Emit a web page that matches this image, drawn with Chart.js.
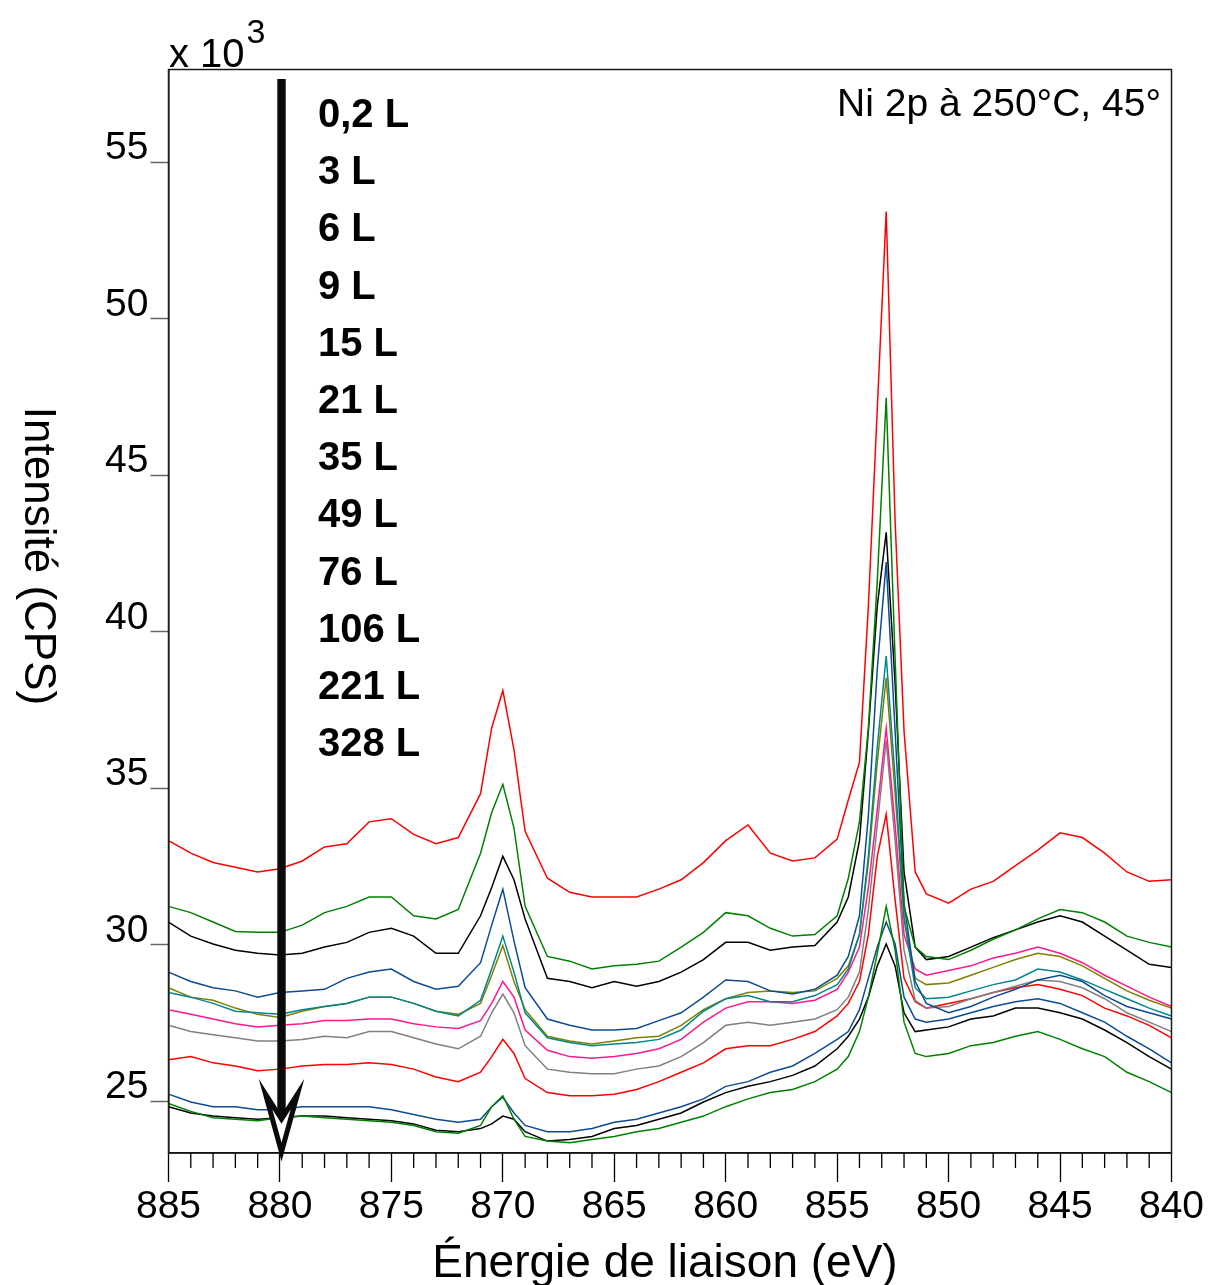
<!DOCTYPE html>
<html lang="fr">
<head>
<meta charset="utf-8">
<script src="https://cdn.jsdelivr.net/npm/chart.js@4.4.1/dist/chart.umd.min.js"></script>
<style>
  html, body { margin: 0; padding: 0; background: #fff; }
  #wrap { width: 1210px; height: 1285px; position: relative; }
</style>
</head>
<body>
<div id="wrap"><canvas id="xps"></canvas></div>
<script>
// binding energy grid (eV), denser around the two Ni 2p peaks
const energies = [885, 884, 883, 882, 881, 880, 879, 878, 877, 876, 875, 874, 873, 872, 871,
  870.5, 870, 869.5,
  869, 868, 867, 866, 865, 864, 863, 862, 861, 860, 859, 858, 857, 856, 855,
  854.5, 854, 853.6, 853.2, 852.8, 852.4, 852, 851.5, 851,
  850, 849, 848, 847, 846, 845, 844, 843, 842, 841, 840];

const exposures = ['0,2 L', '3 L', '6 L', '9 L', '15 L', '21 L', '35 L', '49 L', '76 L', '106 L', '221 L', '328 L'];
const seriesColors = ['#ff0000', '#008000', '#000000', '#0d4c92', '#00868b', '#808000', '#ff1a8c', '#808080', '#ff0000', '#008000', '#0d4c92', '#000000'];

// intensities, x 10^3 CPS
const cps_02L = [33.33, 32.93, 32.63, 32.48, 32.33, 32.43, 32.68, 33.13, 33.23, 33.93, 34.03, 33.53, 33.23, 33.43, 34.83,
  36.93, 38.13, 36.23,
  33.63, 32.13, 31.68, 31.53, 31.53, 31.53, 31.78, 32.08, 32.63, 33.33, 33.83, 32.93, 32.68, 32.78, 33.38,
  34.63, 35.83, 40.83, 47.13, 53.43, 43.53, 36.83, 32.33, 31.63,
  31.33, 31.78, 32.03, 32.53, 33.03, 33.58, 33.43, 32.93, 32.33, 32.03, 32.08];
const cps_3L = [31.23, 31.03, 30.73, 30.43, 30.4, 30.4, 30.63, 31.03, 31.23, 31.53, 31.53, 30.93, 30.83, 31.13, 32.93,
  34.23, 35.13, 33.73,
  31.23, 29.63, 29.48, 29.23, 29.33, 29.38, 29.48, 29.93, 30.4, 31.03, 30.93, 30.53, 30.28, 30.33, 30.93,
  32.13, 33.93, 36.93, 41.63, 47.48, 39.13, 31.23, 29.93, 29.63,
  29.53, 29.83, 30.18, 30.48, 30.83, 31.13, 31.03, 30.73, 30.28, 30.08, 29.93];
const cps_6L = [30.73, 30.28, 30.03, 29.83, 29.73, 29.68, 29.73, 29.93, 30.08, 30.4, 30.53, 30.28, 29.73, 29.73, 30.93,
  31.83, 32.83, 32.08,
  30.83, 28.93, 28.83, 28.63, 28.83, 28.68, 28.83, 29.13, 29.53, 30.08, 30.08, 29.83, 29.93, 29.98, 30.73,
  31.53, 33.33, 36.83, 40.83, 43.18, 38.33, 32.33, 29.93, 29.53,
  29.63, 29.93, 30.23, 30.48, 30.73, 30.93, 30.73, 30.28, 29.83, 29.38, 29.28];
const cps_9L = [29.13, 28.83, 28.63, 28.53, 28.33, 28.48, 28.53, 28.58, 28.93, 29.13, 29.23, 28.83, 28.58, 28.68, 29.43,
  30.63, 31.78, 30.13,
  28.63, 27.63, 27.43, 27.28, 27.28, 27.33, 27.58, 27.83, 28.33, 28.88, 28.83, 28.53, 28.43, 28.58, 29.03,
  29.63, 30.93, 34.13, 38.83, 42.23, 36.83, 31.33, 28.83, 28.13,
  27.83, 28.03, 28.33, 28.58, 28.88, 29.03, 28.83, 28.38, 28.03, 27.83, 27.63];
const cps_15L = [28.48, 28.33, 28.13, 27.88, 27.83, 27.78, 27.93, 28.03, 28.13, 28.33, 28.33, 28.13, 27.88, 27.73, 28.23,
  29.23, 30.28, 29.13,
  27.83, 27.03, 26.88, 26.78, 26.83, 26.88, 26.98, 27.28, 27.88, 28.28, 28.38, 28.18, 28.18, 28.38, 28.73,
  29.23, 30.33, 32.83, 36.33, 39.23, 35.33, 30.83, 28.63, 28.28,
  28.33, 28.53, 28.73, 28.88, 29.23, 29.13, 28.88, 28.58, 28.28, 27.98, 27.73];
const cps_21L = [28.63, 28.33, 28.23, 27.98, 27.78, 27.68, 27.88, 28.03, 28.13, 28.33, 28.33, 28.13, 27.88, 27.78, 28.13,
  29.03, 29.98, 28.83,
  27.93, 27.08, 26.93, 26.83, 26.93, 27.03, 27.08, 27.43, 27.93, 28.28, 28.48, 28.53, 28.48, 28.53, 28.93,
  29.33, 30.33, 32.63, 35.83, 38.53, 34.83, 30.93, 28.93, 28.73,
  28.78, 29.03, 29.28, 29.53, 29.73, 29.63, 29.33, 28.93, 28.53, 28.23, 27.98];
const cps_35L = [27.93, 27.78, 27.63, 27.48, 27.38, 27.43, 27.48, 27.58, 27.58, 27.63, 27.63, 27.48, 27.38, 27.33, 27.58,
  28.13, 28.83, 28.33,
  27.28, 26.63, 26.43, 26.38, 26.43, 26.53, 26.68, 26.98, 27.53, 27.98, 28.18, 28.18, 28.13, 28.23, 28.58,
  29.13, 29.93, 31.83, 34.33, 36.93, 33.83, 30.33, 29.23, 29.03,
  29.18, 29.33, 29.58, 29.73, 29.93, 29.73, 29.43, 29.03, 28.68, 28.33, 28.03];
const cps_49L = [27.43, 27.23, 27.13, 27.03, 26.93, 26.93, 26.98, 27.08, 27.03, 27.23, 27.23, 27.03, 26.83, 26.68, 27.08,
  27.83, 28.43, 27.83,
  26.78, 26.03, 25.93, 25.88, 25.88, 26.03, 26.13, 26.43, 26.88, 27.43, 27.53, 27.43, 27.53, 27.63, 27.93,
  28.33, 29.13, 31.13, 33.83, 36.53, 33.33, 29.83, 28.23, 27.98,
  28.03, 28.28, 28.48, 28.68, 28.88, 28.83, 28.63, 28.28, 27.83, 27.53, 27.23];
const cps_76L = [26.33, 26.43, 26.23, 26.13, 25.98, 26.03, 26.13, 26.18, 26.18, 26.23, 26.18, 26.03, 25.78, 25.63, 25.93,
  26.43, 26.98, 26.53,
  25.73, 25.28, 25.18, 25.18, 25.23, 25.38, 25.63, 25.93, 26.23, 26.68, 26.78, 26.78, 26.98, 27.23, 27.73,
  28.13, 28.83, 30.33, 32.83, 34.17, 31.43, 28.93, 28.18, 27.98,
  28.13, 28.28, 28.48, 28.63, 28.73, 28.58, 28.38, 27.98, 27.73, 27.43, 27.03];
const cps_106L = [24.93, 24.68, 24.48, 24.43, 24.38, 24.48, 24.53, 24.48, 24.43, 24.38, 24.33, 24.23, 24.03, 23.98, 24.23,
  24.83, 25.18, 24.43,
  23.88, 23.73, 23.68, 23.78, 23.88, 24.03, 24.13, 24.33, 24.53, 24.83, 25.08, 25.28, 25.38, 25.63, 26.03,
  26.43, 27.23, 28.33, 29.73, 31.23, 29.83, 27.53, 26.53, 26.43,
  26.53, 26.78, 26.88, 27.08, 27.23, 26.98, 26.68, 26.43, 25.93, 25.63, 25.28];
const cps_221L = [25.23, 24.98, 24.83, 24.83, 24.73, 24.73, 24.83, 24.83, 24.83, 24.83, 24.73, 24.58, 24.43, 24.33, 24.43,
  24.83, 25.13, 24.63,
  24.23, 24.03, 24.03, 24.13, 24.33, 24.43, 24.63, 24.83, 25.08, 25.48, 25.63, 25.93, 26.13, 26.53, 26.98,
  27.23, 27.93, 28.93, 29.93, 30.73, 30.03, 28.33, 27.63, 27.53,
  27.63, 27.83, 28.03, 28.18, 28.28, 28.13, 27.83, 27.53, 27.08, 26.68, 26.23];
const cps_328L = [24.83, 24.63, 24.53, 24.48, 24.43, 24.48, 24.53, 24.53, 24.48, 24.43, 24.38, 24.28, 24.08, 24.03, 24.13,
  24.28, 24.53, 24.43,
  24.03, 23.73, 23.78, 23.88, 24.13, 24.23, 24.43, 24.63, 24.98, 25.28, 25.48, 25.63, 25.83, 26.13, 26.68,
  27.08, 27.63, 28.33, 29.33, 30.03, 29.33, 27.83, 27.23, 27.28,
  27.38, 27.63, 27.73, 27.98, 27.98, 27.83, 27.63, 27.28, 26.88, 26.43, 26.03];

const allSeries = [cps_02L, cps_3L, cps_6L, cps_9L, cps_15L, cps_21L, cps_35L, cps_49L, cps_76L, cps_106L, cps_221L, cps_328L];

const xTickValues = [885, 880, 875, 870, 865, 860, 855, 850, 845, 840];
const yTickValues = [25, 30, 35, 40, 45, 50, 55];
const xRange = [840, 885];
const yRange = [23.35, 57.97];

const FONT = '"Liberation Sans", Arial, sans-serif';

const decorations = {
  id: 'decorations',
  afterDraw(chart) {
    const { ctx, chartArea: a, scales: { x } } = chart;
    ctx.save();

    // frame round the plot
    ctx.strokeStyle = '#1a1a1a';
    ctx.lineWidth = 1.5;
    ctx.strokeRect(a.left, a.top, a.right - a.left, a.bottom - a.top);

    // minor ticks, every eV
    ctx.strokeStyle = '#000';
    ctx.lineWidth = 1.3;
    ctx.beginPath();
    for (let e = xRange[0] + 1; e < xRange[1]; e++) {
      if (e % 5 === 0) continue;
      const px = x.getPixelForValue(e);
      ctx.moveTo(px, a.bottom);
      ctx.lineTo(px, a.bottom + 15);
    }
    ctx.stroke();

    // big arrow (exposure increasing)
    const ax = x.getPixelForValue(879.93);
    const notch = a.bottom - 34;
    ctx.fillStyle = '#0a0a0a';
    ctx.fillRect(ax - 4.2, a.top + 9.5, 8.4, notch - (a.top + 9.5));
    ctx.beginPath();
    ctx.moveTo(ax - 16, a.bottom - 59);
    ctx.lineTo(ax, notch);
    ctx.lineTo(ax + 16, a.bottom - 59);
    ctx.lineTo(ax, a.bottom - 1);
    ctx.closePath();
    ctx.fillStyle = '#fff';
    ctx.fill();
    ctx.lineWidth = 5;
    ctx.lineJoin = 'miter';
    ctx.strokeStyle = '#0a0a0a';
    ctx.stroke();

    // exposure labels
    ctx.fillStyle = '#000';
    ctx.font = 'bold 40px ' + FONT;
    ctx.textAlign = 'left';
    ctx.textBaseline = 'alphabetic';
    exposures.forEach((lab, i) => ctx.fillText(lab, 318, 127 + 57.2 * i));

    // annotation top right
    ctx.font = '39px ' + FONT;
    ctx.textAlign = 'right';
    ctx.fillText('Ni 2p à 250°C, 45°', 1161, 116);

    // multiplier
    ctx.textAlign = 'left';
    ctx.font = '40px ' + FONT;
    ctx.fillText('x 10', 169, 67);
    const w = ctx.measureText('x 10').width;
    ctx.font = '34px ' + FONT;
    ctx.fillText('3', 169 + w + 2, 43);

    // axis titles
    ctx.font = '46px ' + FONT;
    ctx.textAlign = 'center';
    ctx.fillText('Énergie de liaison (eV)', 665, 1277);

    ctx.translate(25, 556);
    ctx.rotate(Math.PI / 2);
    ctx.font = '44px ' + FONT;
    ctx.fillText('Intensité (CPS)', 0, 0);

    ctx.restore();
  }
};

new Chart(document.getElementById('xps'), {
  type: 'line',
  data: {
    datasets: allSeries.map((vals, i) => ({
      label: exposures[i],
      data: energies.map((e, j) => ({ x: e, y: vals[j] })),
      borderColor: seriesColors[i],
      borderWidth: 1.5,
      pointRadius: 0,
      tension: 0,
      fill: false
    }))
  },
  options: {
    responsive: true,
    maintainAspectRatio: false,
    animation: false,
    layout: { padding: { top: 69.5, right: 38.5, left: 0, bottom: 0 } },
    plugins: {
      legend: { display: false },
      tooltip: { enabled: false }
    },
    scales: {
      x: {
        type: 'linear',
        reverse: true,
        min: xRange[0],
        max: xRange[1],
        afterBuildTicks: (scale) => { scale.ticks = xTickValues.map(v => ({ value: v })); },
        afterFit: (scale) => { scale.height = 132; },
        grid: { drawOnChartArea: false, tickLength: 29, tickColor: '#000', tickWidth: 1.3 },
        border: { color: '#000', width: 1.5 },
        ticks: {
          color: '#000',
          padding: 2,
          maxRotation: 0,
          font: { size: 39, family: FONT },
          callback: (v) => String(v)
        }
      },
      y: {
        min: yRange[0],
        max: yRange[1],
        afterBuildTicks: (scale) => { scale.ticks = yTickValues.map(v => ({ value: v })); },
        afterFit: (scale) => { scale.width = 168.5; },
        grid: { drawOnChartArea: false, tickLength: 18, tickColor: '#666', tickWidth: 1.5 },
        border: { color: '#000', width: 1.5 },
        ticks: {
          color: '#000',
          padding: 2,
          labelOffset: -14,
          font: { size: 39, family: FONT },
          callback: (v) => String(v)
        }
      }
    }
  },
  plugins: [decorations]
});
</script>
</body>
</html>
